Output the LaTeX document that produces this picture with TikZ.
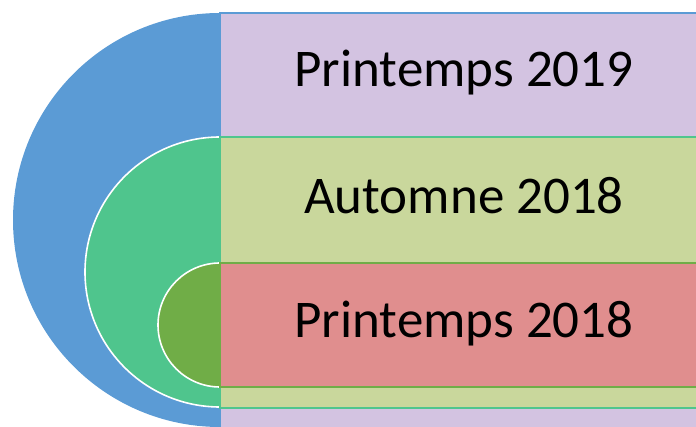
\documentclass[tikz,border=0pt]{standalone}
\usepackage{fontspec}
\setmainfont{Carlito}
\usepackage{xcolor}
\usetikzlibrary{positioning}

\definecolor{ringblue}{HTML}{5B9BD5}
\definecolor{ringgreen}{HTML}{4FC58D}
\definecolor{ringolive}{HTML}{70AD47}
\definecolor{bandlilac}{HTML}{D3C3E1}
\definecolor{bandlime}{HTML}{C9D79C}
\definecolor{bandrose}{HTML}{E08E8E}

\tikzset{
    season/.style={anchor=base, font=\fontsize{53}{62}\selectfont, inner sep=0pt},
    halo/.style={draw=white, line width=1.6pt},
}

\begin{document}
\begin{tikzpicture}[x=1pt, y=-1pt]
    \useasboundingbox (0,0) rectangle (696,427);
    \clip (0,0) rectangle (696,427);

    % outer band and half disc
    \fill[bandlilac] (220,13) rectangle (712,440);
    \fill[ringblue] (220,13) arc[start angle=270, end angle=90, radius=207] -- cycle;
    \draw[ringblue, line width=1.2pt] (712,13) -- (220,13) -- (220,440);

    % middle band and half disc
    \fill[bandlime] (220,137) rectangle (712,408);
    \fill[ringgreen] (220,137) arc[start angle=270, end angle=90, radius=135] -- cycle;
    \draw[halo] (220,137) arc[start angle=270, end angle=90, radius=135];
    \draw[ringgreen, line width=1.2pt] (712,137) -- (220,137) -- (220,408) -- (712,408);

    % inner band and half disc
    \fill[bandrose] (220,263) rectangle (712,387);
    \fill[ringolive] (220,263) arc[start angle=270, end angle=90, radius=62] -- cycle;
    \draw[halo] (220,263) arc[start angle=270, end angle=90, radius=62];
    \draw[ringolive, line width=1.2pt] (712,263) -- (220,263) -- (220,387) -- (712,387);

    \node[season] (spring19) at (464,87) {Printemps 2019};
    \node[season] (autumn18) at (464,214) {Automne 2018};
    \node[season] (spring18) at (464,338) {Printemps 2018};
\end{tikzpicture}
\end{document}
